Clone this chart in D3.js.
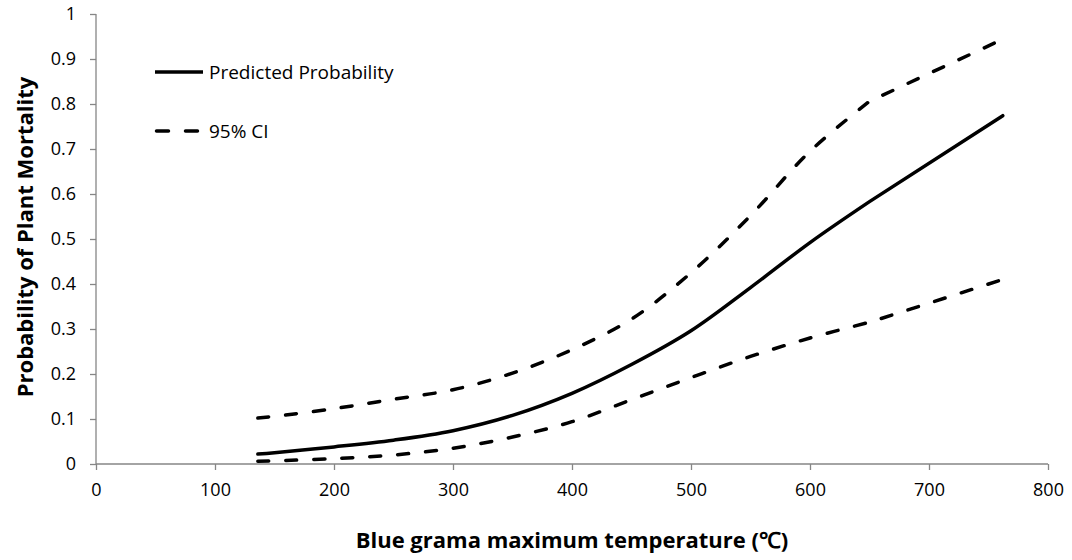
<!DOCTYPE html>
<html>
<head>
<meta charset="utf-8">
<script src="https://cdn.jsdelivr.net/npm/d3@7"></script>
<style>
  body { margin: 0; background: #fff; }
</style>
</head>
<body>
<div id="chart"></div>
<script>
// Data
var temperatures = [136, 150, 200, 250, 300, 350, 400, 450, 500, 550, 600, 650, 762];
var predicted    = [0.022, 0.025, 0.038, 0.053, 0.074, 0.108, 0.157, 0.221, 0.296, 0.392, 0.492, 0.583, 0.774];
var upperCI      = [0.102, 0.106, 0.123, 0.144, 0.165, 0.202, 0.254, 0.322, 0.425, 0.552, 0.695, 0.806, 0.944];
var lowerCI      = [0.006, 0.007, 0.012, 0.020, 0.035, 0.060, 0.094, 0.143, 0.192, 0.239, 0.280, 0.315, 0.410];
var xTicks = [0, 100, 200, 300, 400, 500, 600, 700, 800];
var yTicks = [0, 0.1, 0.2, 0.3, 0.4, 0.5, 0.6, 0.7, 0.8, 0.9, 1];
var legendLabels = ['Predicted Probability', '95% CI'];

var attrs = {
  svgWidth: 1072,
  svgHeight: 560,
  marginTop: 14,
  marginLeft: 96,
  marginRight: 24,
  marginBottom: 96,
  axisColor: '#868686',
  lineColor: '#000',
  font: '"Open Sans", Lato, sans-serif'
};

var calc = {};
calc.chartWidth = attrs.svgWidth - attrs.marginLeft - attrs.marginRight;
calc.chartHeight = attrs.svgHeight - attrs.marginTop - attrs.marginBottom;

var svg = d3.select('#chart').append('svg')
  .attr('width', attrs.svgWidth)
  .attr('height', attrs.svgHeight)
  .attr('font-family', attrs.font);

var chart = svg.append('g')
  .attr('transform', `translate(${attrs.marginLeft},${attrs.marginTop})`);

var x = d3.scaleLinear().domain([0, 800]).range([0, calc.chartWidth]);
var y = d3.scaleLinear().domain([0, 1]).range([calc.chartHeight, 0]);

// axes
var xAxis = chart.append('g')
  .attr('transform', `translate(0,${calc.chartHeight})`)
  .call(d3.axisBottom(x).tickValues(xTicks).tickSize(6).tickPadding(13).tickFormat(d3.format('d')));

var yAxis = chart.append('g')
  .call(d3.axisLeft(y).tickValues(yTicks).tickSize(6).tickPadding(14).tickFormat(d => d === 0 || d === 1 ? d : d3.format('.1f')(d)));

[xAxis, yAxis].forEach(function(a) {
  a.selectAll('path').attr('stroke', attrs.axisColor).attr('stroke-width', 1.3);
  a.selectAll('line').attr('stroke', attrs.axisColor).attr('stroke-width', 1.3);
  a.selectAll('text').attr('fill', '#000').style('font-size', '18px').style('font-family', attrs.font);
});
xAxis.select('.domain').attr('d', `M0,0H${calc.chartWidth}`);
yAxis.select('.domain').attr('d', `M0,${calc.chartHeight}V0`);

// lines: smooth up to 650, then a straight run to the last point (as in the figure)
var series = [
  { values: predicted, dash: null },
  { values: upperCI, dash: '11,17' },
  { values: lowerCI, dash: '11,17' }
];

var line = d3.line()
  .x((d, i) => x(temperatures[i]))
  .y(d => y(d))
  .curve(d3.curveCatmullRom.alpha(0.5));

function seriesPath(values) {
  var n = values.length;
  return line(values.slice(0, n - 1)) + 'L' + x(temperatures[n - 1]) + ',' + y(values[n - 1]);
}

chart.selectAll('.series')
  .data(series)
  .enter()
  .append('path')
  .attr('class', 'series')
  .attr('d', d => seriesPath(d.values))
  .attr('fill', 'none')
  .attr('stroke', attrs.lineColor)
  .attr('stroke-width', 3.5)
  .attr('stroke-linecap', 'round')
  .attr('stroke-linejoin', 'round')
  .attr('stroke-dasharray', d => d.dash);

// legend
var legend = svg.append('g').attr('transform', 'translate(155,0)');
var legendItems = legend.selectAll('.legend-item')
  .data(legendLabels)
  .enter()
  .append('g')
  .attr('class', 'legend-item')
  .attr('transform', (d, i) => `translate(0,${i === 0 ? 72 : 131})`);

legendItems.append('line')
  .attr('x1', (d, i) => i === 0 ? 0 : 1.5)
  .attr('x2', (d, i) => i === 0 ? 48 : 43)
  .attr('stroke', '#000')
  .attr('stroke-width', 3.5)
  .attr('stroke-linecap', (d, i) => i === 0 ? 'butt' : 'round')
  .attr('stroke-dasharray', (d, i) => i === 0 ? null : '12,17');

legendItems.append('text')
  .attr('x', 54)
  .attr('dy', '0.35em')
  .style('font-size', '19px')
  .text(d => d);

// axis titles
svg.append('text')
  .attr('x', 572)
  .attr('y', 548)
  .attr('text-anchor', 'middle')
  .style('font-size', '22px')
  .style('font-weight', 'bold')
  .text('Blue grama maximum temperature (\u2103)');

svg.append('text')
  .attr('transform', `translate(33,237) rotate(-90)`)
  .attr('text-anchor', 'middle')
  .style('font-size', '22px')
  .style('font-weight', 'bold')
  .text('Probability of Plant Mortality');
</script>
</body>
</html>
